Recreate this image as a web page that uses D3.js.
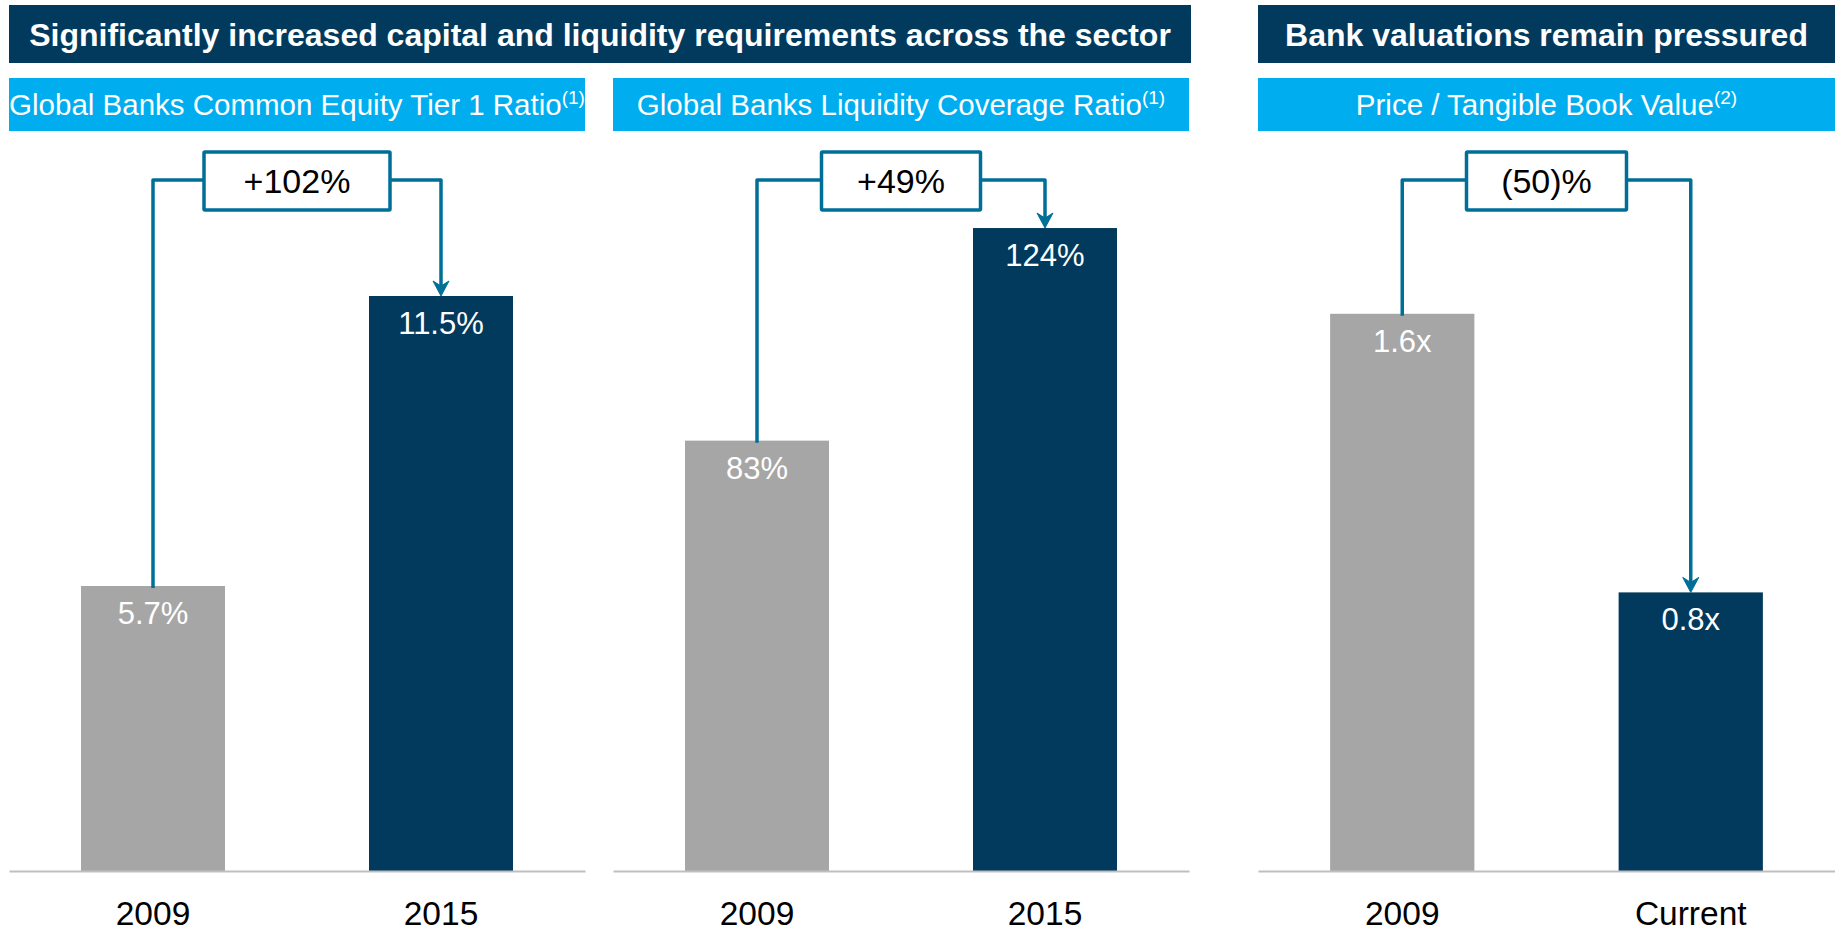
<!DOCTYPE html>
<html>
<head>
<meta charset="utf-8">
<script src="https://cdn.jsdelivr.net/npm/d3@7"></script>
<style>
  html, body { margin: 0; padding: 0; background: #ffffff; }
  svg { display: block; font-family: "Liberation Sans", Arial, Helvetica, sans-serif; }
</style>
</head>
<body>
<svg id="chart" width="1835" height="933"></svg>
<script>
// ---- data ----
const capitalYears = ["2009", "2015"];
const cet1Ratio = [5.7, 11.5];          // %
const lcrRatio = [83, 124];             // %
const valuationPeriods = ["2009", "Current"];
const priceToTangibleBook = [1.6, 0.8]; // x
const changeLabels = ["+102%", "+49%", "(50)%"];
const sectionTitles = [
  "Significantly increased capital and liquidity requirements across the sector",
  "Bank valuations remain pressured"
];
const panelTitles = [
  "Global Banks Common Equity Tier 1 Ratio",
  "Global Banks Liquidity Coverage Ratio",
  "Price / Tangible Book Value"
];
const panelNotes = ["(1)", "(1)", "(2)"];

// ---- styling ----
const NAVY = "#023A5D";
const SKY = "#00AEEF";
const GREY = "#A6A6A6";
const LINK = "#006F98";
const AXIS = "#BFBFBF";
const barColors = [GREY, NAVY];

const svg = d3.select("#chart");

// section banners
const sections = [
  { title: sectionTitles[0], x0: 9, x1: 1191 },
  { title: sectionTitles[1], x0: 1258, x1: 1835 }
];
const banner = svg.selectAll("g.section").data(sections).join("g").attr("class", "section");
banner.append("rect")
  .attr("x", d => d.x0).attr("y", 5)
  .attr("width", d => d.x1 - d.x0).attr("height", 58)
  .attr("fill", NAVY);
banner.append("text")
  .attr("x", d => (d.x0 + d.x1) / 2).attr("y", 46)
  .attr("text-anchor", "middle")
  .attr("fill", "#ffffff")
  .attr("font-size", 32).attr("font-weight", "bold")
  .text(d => d.title);

// panels
const baseY = 871;
const topY = 171;
const panels = [
  { title: panelTitles[0], note: panelNotes[0], cats: capitalYears, values: cet1Ratio, max: 14,
    fmt: v => d3.format(".1f")(v) + "%", change: changeLabels[0], x0: 9, x1: 585, boxW: 186 },
  { title: panelTitles[1], note: panelNotes[1], cats: capitalYears, values: lcrRatio, max: 135,
    fmt: v => d3.format(".0f")(v) + "%", change: changeLabels[1], x0: 613, x1: 1189, boxW: 159 },
  { title: panelTitles[2], note: panelNotes[2], cats: valuationPeriods, values: priceToTangibleBook, max: 2.01,
    fmt: v => d3.format(".1f")(v) + "x", change: changeLabels[2], x0: 1258, x1: 1835, boxW: 160 }
];

panels.forEach(p => {
  const g = svg.append("g").attr("class", "panel");

  // sub-title strip
  g.append("rect")
    .attr("x", p.x0).attr("y", 78)
    .attr("width", p.x1 - p.x0).attr("height", 53)
    .attr("fill", SKY);
  const st = g.append("text")
    .attr("x", (p.x0 + p.x1) / 2).attr("y", 115)
    .attr("text-anchor", "middle")
    .attr("fill", "#ffffff")
    .attr("font-size", 29.5);
  st.append("tspan").text(p.title);
  st.append("tspan").attr("font-size", 19).attr("dy", -11).text(p.note);

  const x = d3.scaleBand().domain(p.cats).range([p.x0, p.x1])
    .paddingInner(0.5).paddingOuter(0.25);
  const y = d3.scaleLinear().domain([0, p.max]).range([baseY, topY]);
  const rows = p.cats.map((c, i) => ({ cat: c, value: p.values[i], i }));

  // bars
  g.selectAll("rect.bar").data(rows).join("rect")
    .attr("class", "bar")
    .attr("x", d => x(d.cat)).attr("width", x.bandwidth())
    .attr("y", d => y(d.value)).attr("height", d => baseY - y(d.value))
    .attr("fill", d => barColors[d.i]);

  // value labels inside the bars
  g.selectAll("text.val").data(rows).join("text")
    .attr("class", "val")
    .attr("x", d => x(d.cat) + x.bandwidth() / 2)
    .attr("y", d => y(d.value) + 38)
    .attr("text-anchor", "middle")
    .attr("fill", "#ffffff")
    .attr("font-size", 31)
    .text(d => p.fmt(d.value));

  // category axis
  const ax = g.append("g")
    .attr("transform", `translate(0,${baseY})`)
    .call(d3.axisBottom(x).tickSizeInner(0).tickSizeOuter(0));
  ax.select(".domain").attr("stroke", AXIS).attr("stroke-width", 2);
  ax.selectAll(".tick text")
    .attr("y", 54).attr("dy", 0)
    .attr("fill", "#000000")
    .attr("font-size", 33.5)
    .attr("font-family", "Liberation Sans, Arial, Helvetica, sans-serif");

  // change bracket with arrow
  const xa = x(p.cats[0]) + x.bandwidth() / 2;
  const xb = x(p.cats[1]) + x.bandwidth() / 2;
  const mid = (xa + xb) / 2;
  const linkY = 180;
  const boxL = mid - p.boxW / 2, boxR = mid + p.boxW / 2;
  const tipY = y(p.values[1]);
  g.append("path")
    .attr("d", `M${xa},${y(p.values[0]) + 2}V${linkY}H${boxL}M${boxR},${linkY}H${xb}V${tipY - 8}`)
    .attr("fill", "none").attr("stroke", LINK).attr("stroke-width", 3.5)
    .attr("stroke-linejoin", "round");
  g.append("path")
    .attr("d", `M${xb},${tipY}L${xb - 8},${tipY - 15}L${xb},${tipY - 10}L${xb + 8},${tipY - 15}Z`)
    .attr("fill", LINK).attr("stroke", LINK).attr("stroke-width", 1).attr("stroke-linejoin", "round");
  g.append("rect")
    .attr("x", boxL).attr("y", 152)
    .attr("width", p.boxW).attr("height", 58)
    .attr("fill", "#ffffff").attr("stroke", LINK).attr("stroke-width", 3.5).attr("rx", 1);
  g.append("text")
    .attr("x", mid).attr("y", 193)
    .attr("text-anchor", "middle")
    .attr("fill", "#000000")
    .attr("font-size", 34)
    .text(p.change);
});
</script>
</body>
</html>
